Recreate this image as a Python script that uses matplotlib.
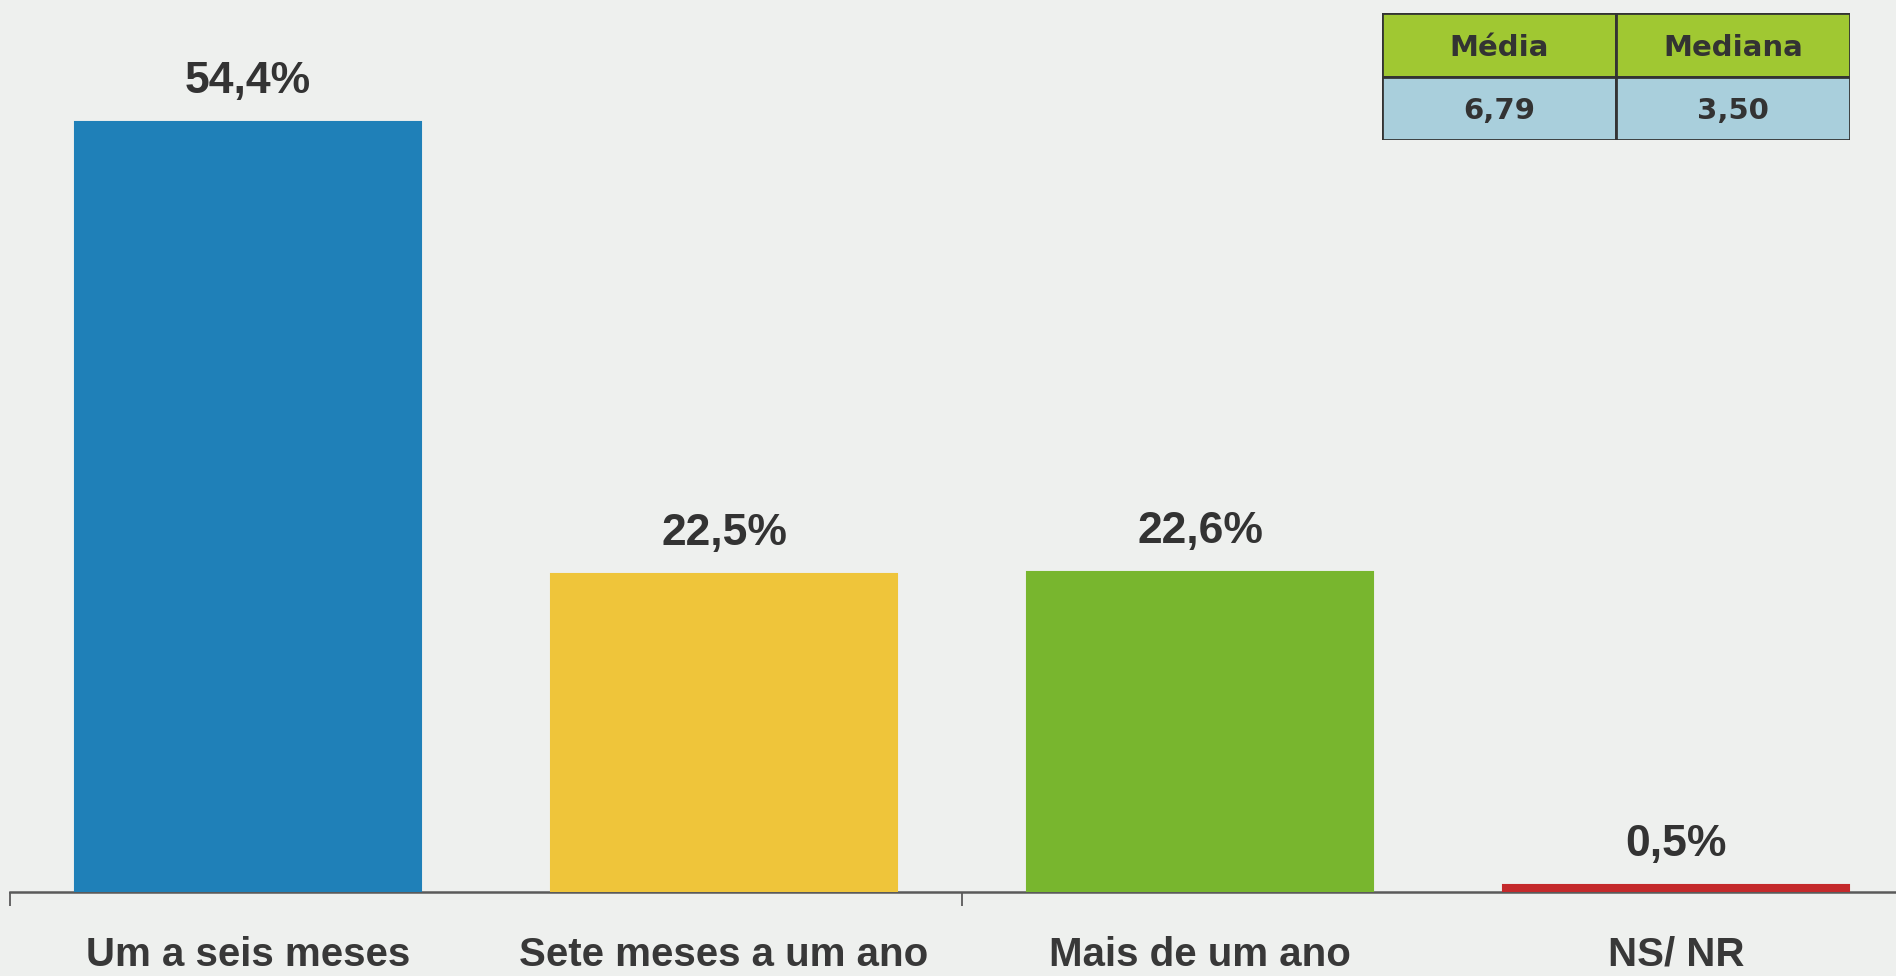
import matplotlib.pyplot as plt

categorias = ["Um a seis meses", "Sete meses a um ano", "Mais de um ano", "NS/ NR"]
valores = [54.4, 22.5, 22.6, 0.5]
rotulos = ["54,4%", "22,5%", "22,6%", "0,5%"]
cores = ["#1f80b8", "#efc53a", "#78b62e", "#c4292b"]

tabela_cab = ["Média", "Mediana"]
tabela_val = ["6,79", "3,50"]

W, H = 1896, 976
fig = plt.figure(figsize=(W / 100, H / 100), dpi=100, facecolor="#eef0ee")

# axes runs slightly past the right edge, like the original
ax = fig.add_axes([10 / W, 84 / H, 1904 / W, 892 / H])
ax.set_facecolor("none")

x = range(len(categorias))
ax.bar(x, valores, width=0.725, color=cores, edgecolor=cores,
       linewidth=1.5, zorder=3)

for xi, v, r in zip(x, valores, rotulos):
    ax.annotate(r, (xi, v), xytext=(0, 29), textcoords="offset points",
                ha="center", va="center", fontsize=32, fontweight="bold",
                family="Liberation Sans", color="#333333")

for xi, c in zip(x, categorias):
    ax.annotate(c, (xi, 0), xycoords=("data", "axes fraction"),
                xytext=(0, -45), textcoords="offset points",
                ha="center", va="center", fontsize=29, fontweight="bold",
                family="Liberation Sans", color="#383838")

ax.set_xlim(-0.5, 3.5)
ax.set_ylim(0, 63.04)
for s in ["top", "right", "left"]:
    ax.spines[s].set_visible(False)
ax.spines["bottom"].set_color("#5a5a5a")
ax.spines["bottom"].set_linewidth(1.8)
ax.set_yticks([])
ax.set_xticks([-0.5, 1.5])
ax.set_xticklabels([])
ax.tick_params(axis="x", length=10, width=1.3, color="#5a5a5a", direction="out")

# Média / Mediana table
tab = fig.add_axes([1382 / W, 1 - 140 / H, 468 / W, 127 / H])
tab.set_xlim(0, 2)
tab.set_ylim(0, 2)
tab.axis("off")
for i in range(2):
    tab.add_patch(plt.Rectangle((i, 1), 1, 1, facecolor="#a0c832",
                                edgecolor="#333333", linewidth=2))
    tab.add_patch(plt.Rectangle((i, 0), 1, 1, facecolor="#a9cfdc",
                                edgecolor="#333333", linewidth=2))
    tab.text(i + 0.5, 1.45, tabela_cab[i], ha="center", va="center",
             fontsize=21, fontweight="bold", color="#333333", family="DejaVu Sans")
    tab.text(i + 0.5, 0.45, tabela_val[i], ha="center", va="center",
             fontsize=21, fontweight="bold", color="#333333", family="DejaVu Sans")

fig.savefig("out.png", dpi=100, facecolor=fig.get_facecolor())
